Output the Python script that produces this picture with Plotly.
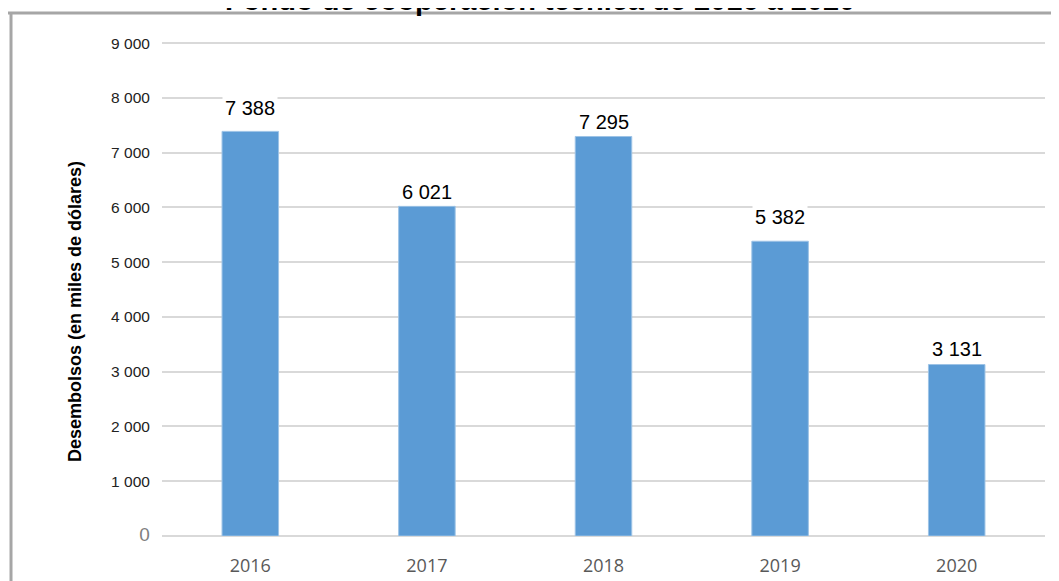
import plotly.graph_objects as go

years = ["2016", "2017", "2018", "2019", "2020"]
disbursements = [7388, 6021, 7295, 5382, 3131]
label_texts = ["7 388", "6 021", "7 295", "5 382", "3 131"]
y_ticks = [0, 1000, 2000, 3000, 4000, 5000, 6000, 7000, 8000, 9000]
y_tick_labels = ["<span style='color:#7f7f7f;font-size:19px'>0</span>", "1 000", "2 000", "3 000",
                 "4 000", "5 000", "6 000", "7 000", "8 000", "9 000"]

# label offsets above bar tops (pixels), as placed in the original
label_shift = [23, 14, 14, 24, 16]

fig = go.Figure()
fig.add_trace(go.Bar(
    x=years,
    y=disbursements,
    width=0.32,
    marker=dict(color="#5b9bd5", line=dict(color="#9dc3e6", width=1)),
    hoverinfo="x+y",
))

for i, (val, txt, sh) in enumerate(zip(disbursements, label_texts, label_shift)):
    fig.add_annotation(
        x=i, y=val, text=txt, showarrow=False,
        yanchor="middle", yshift=sh,
        font=dict(family="Liberation Sans, Arial", size=20, color="#000000"),
        bgcolor="white", borderpad=2,
    )

# title, mostly cut off at the top edge (as in the original)
fig.add_annotation(
    xref="paper", yref="paper", x=0.428, y=1.086,
    text="<b>Fondo de cooperación técnica de 2016 a 2020</b>",
    showarrow=False, xanchor="center", yanchor="middle",
    font=dict(family="Liberation Sans, Arial", size=29, color="#000000"),
)

# y axis title
fig.add_annotation(
    xref="paper", yref="paper", x=-0.0985, y=0.4534,
    text="<b>Desembolsos (en miles de dólares)</b>",
    showarrow=False, textangle=-90, xanchor="center", yanchor="middle",
    font=dict(family="Liberation Sans, Arial", size=18, color="#000000"),
)

# frame lines (top and left)
fig.add_shape(type="line", xref="paper", yref="paper",
              x0=-0.2, x1=1.1, y0=1.0587, y1=1.0587,
              line=dict(color="#a6a6a6", width=3))
fig.add_shape(type="line", xref="paper", yref="paper",
              x0=-0.171, x1=-0.171, y0=1.0587, y1=-0.2,
              line=dict(color="#a6a6a6", width=3))

fig.update_layout(
    width=1051, height=573,
    margin=dict(l=154, r=14, t=34, b=45, autoexpand=False),
    paper_bgcolor="white", plot_bgcolor="white",
    showlegend=False,
    xaxis=dict(
        type="category",
        tickfont=dict(family="Open Sans, Liberation Sans", size=18, color="#595959"),
        ticks="outside", ticklen=13, tickcolor="rgba(0,0,0,0)",
        showline=False, showgrid=False, zeroline=False,
    ),
    yaxis=dict(
        range=[0, 9020],
        tickvals=y_ticks, ticktext=y_tick_labels,
        tickfont=dict(family="Liberation Sans, Arial", size=15.5, color="#222222"),
        ticks="outside", ticklen=8, tickcolor="rgba(0,0,0,0)",
        showgrid=True, gridcolor="#d9d9d9", gridwidth=2,
        zeroline=True, zerolinecolor="#d9d9d9", zerolinewidth=2,
        showline=False,
    ),
)

fig.write_html("out.html")
